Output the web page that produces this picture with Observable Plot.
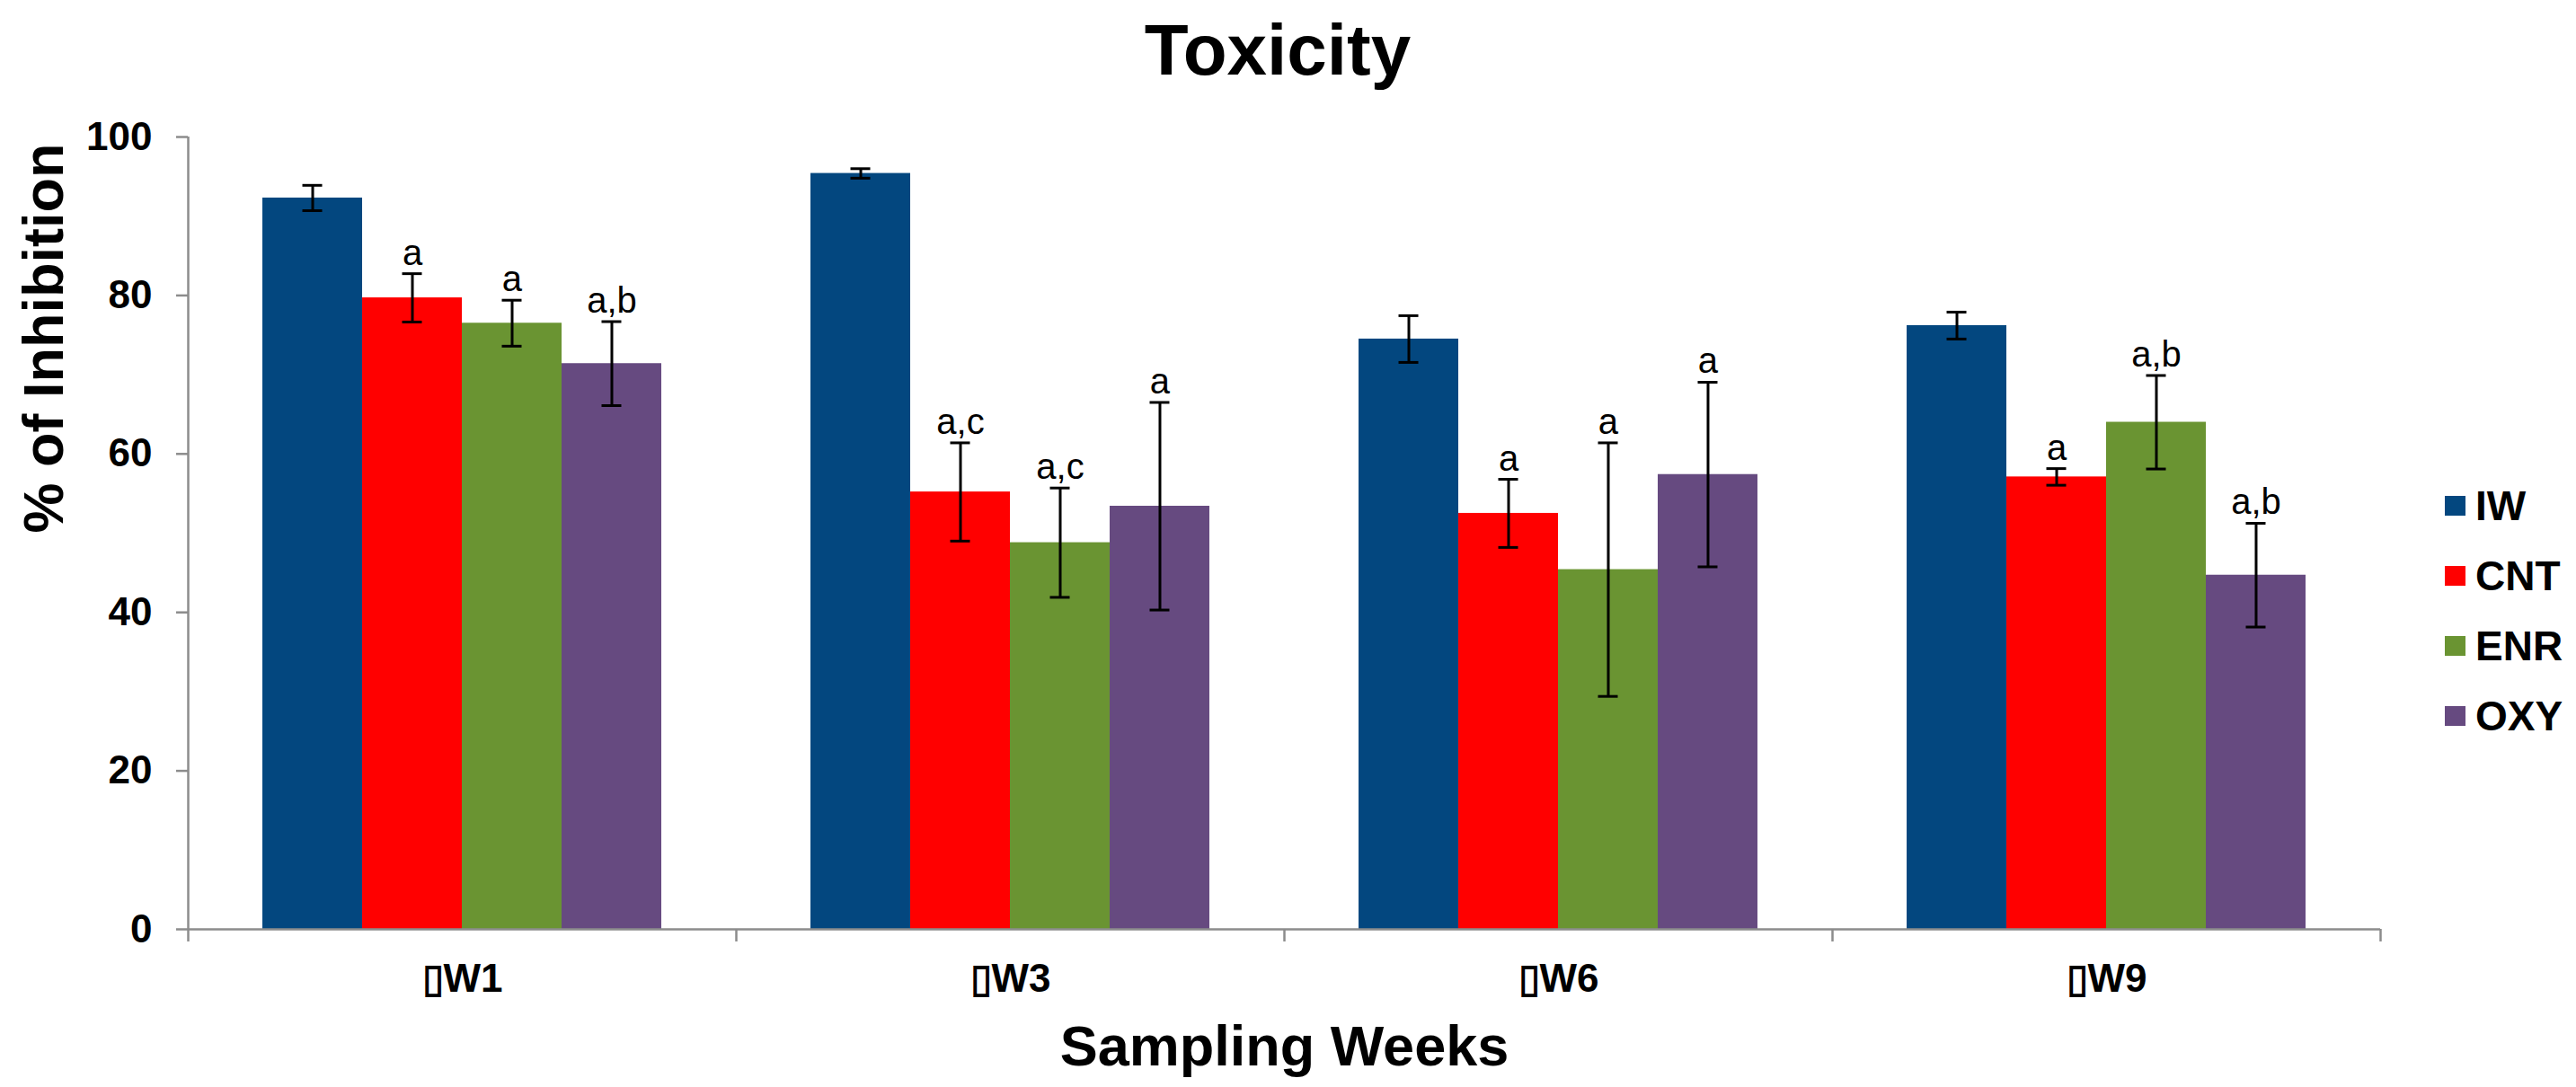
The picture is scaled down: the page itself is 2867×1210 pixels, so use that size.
<!DOCTYPE html>
<html><head><meta charset="utf-8">
<script src="https://cdn.jsdelivr.net/npm/d3@7"></script>
<script src="https://cdn.jsdelivr.net/npm/@observablehq/plot@0.6"></script>
<style>
html,body{margin:0;padding:0;background:#fff;}
#wrap{position:relative;width:2867px;height:1210px;font-family:"Liberation Sans",Arial,sans-serif;color:#000;}
#title{position:absolute;left:0;top:0;width:2844px;height:112px;line-height:112px;text-align:center;font-size:80px;font-weight:bold;}
#chart{position:absolute;left:0;top:112px;}
#legend{position:absolute;left:2721px;top:524px;}
.row{display:flex;align-items:center;height:78px;}
.sw{width:23px;height:22px;margin-right:11px;}
.lab{font-size:46px;font-weight:bold;line-height:78px;}
</style></head>
<body><div id="wrap"><div id="title">Toxicity</div><div id="chart"></div><div id="legend"></div></div>
<script>
// ---- data ----
const weeks = ["W1", "W3", "W6", "W9"];
const series = ["IW", "CNT", "ENR", "OXY"];
const colors = ["#03477F", "#FF0000", "#6A9432", "#664A80"];
const IW  = [92.3, 95.4, 74.5, 76.2];
const CNT = [79.7, 55.2, 52.5, 57.1];
const ENR = [76.5, 48.8, 45.4, 64.0];
const OXY = [71.4, 53.4, 57.4, 44.7];
const IW_err  = [1.6, 0.6, 2.95, 1.7];
const CNT_err = [3.05, 6.2, 4.3, 1.05];
const ENR_err = [2.9, 6.9, 16.0, 5.9];
const OXY_err = [5.3, 13.1, 11.65, 6.55];
const IW_sig  = ["", "", "", ""];
const CNT_sig = ["a", "a,c", "a", "a"];
const ENR_sig = ["a", "a,c", "a", "a,b"];
const OXY_sig = ["a,b", "a", "a", "a,b"];
const yTicks = [0, 20, 40, 60, 80, 100];
const xTitle = "Sampling Weeks";
const yTitle = "% of Inhibition";

// ---- table ----
const means = {IW, CNT, ENR, OXY};
const errs = {IW: IW_err, CNT: CNT_err, ENR: ENR_err, OXY: OXY_err};
const sigs = {IW: IW_sig, CNT: CNT_sig, ENR: ENR_sig, OXY: OXY_sig};
const rows = series.flatMap(s => weeks.map((w, i) => ({
  week: w, wi: i, series: s, value: means[s][i], err: errs[s][i], letter: sigs[s][i]
})));

const inner = d3.scaleBand().domain(series).range([0, 1]).paddingInner(0).paddingOuter(0.748);
const bw = inner.bandwidth();
const x1 = d => d.wi + inner(d.series);
const x2 = d => d.wi + inner(d.series) + bw;
const xc = d => d.wi + inner(d.series) + bw / 2;
const lo = d => d.value - d.err;
const hi = d => d.value + d.err;
const axisColor = "#8c8c8c";

const chart = Plot.plot({
  width: 2867, height: 1098,
  marginTop: 40, marginBottom: 176, marginLeft: 209, marginRight: 218,
  style: {fontFamily: "'Liberation Sans', Arial, sans-serif", background: "transparent", color: "black", overflow: "visible"},
  x: {domain: [0, weeks.length], axis: null},
  y: {domain: [0, 100], axis: null},
  color: {domain: series, range: colors},
  marks: [
    Plot.rectY(rows, {x1, x2, y: "value", fill: "series", inset: 0}),
    Plot.ruleX(rows, {x: xc, y1: lo, y2: hi, stroke: "black", strokeWidth: 3}),
    Plot.ruleY(rows, {y: lo, x1: xc, x2: xc, insetLeft: -11, insetRight: -11, stroke: "black", strokeWidth: 3}),
    Plot.ruleY(rows, {y: hi, x1: xc, x2: xc, insetLeft: -11, insetRight: -11, stroke: "black", strokeWidth: 3}),
    Plot.text(rows.filter(d => d.letter), {x: xc, y: hi, text: "letter", dy: -10, lineAnchor: "bottom", fontSize: 40, fill: "black"}),
    Plot.ruleY([0], {stroke: axisColor, strokeWidth: 2.5}),
    Plot.ruleX([0], {y1: 0, y2: 100, stroke: axisColor, strokeWidth: 2.5}),
    Plot.ruleY(yTicks, {y: d => d, x1: 0, x2: 0, insetLeft: -13, stroke: axisColor, strokeWidth: 2.5}),
    Plot.ruleX(d3.range(weeks.length + 1), {x: d => d, y1: 0, y2: 0, insetBottom: -14, stroke: axisColor, strokeWidth: 2.5}),
    Plot.axisY({ticks: yTicks, tickSize: 0, tickPadding: 40, fontSize: 44, fontWeight: "bold", label: null}),
    Plot.axisX({ticks: weeks.map((w, i) => i + 0.5), tickFormat: d => "\u25AF" + weeks[Math.floor(d)], tickSize: 0, tickPadding: 38, fontSize: 44, fontWeight: "bold", label: null}),
    Plot.text([xTitle], {text: d => d, frameAnchor: "bottom", dy: 151, lineAnchor: "bottom", fontSize: 63, fontWeight: "bold"}),
    Plot.text([yTitle], {text: d => d, frameAnchor: "left", rotate: -90, dx: -140, lineAnchor: "bottom", fontSize: 63, fontWeight: "bold"})
  ]
});
document.getElementById("chart").appendChild(chart);

// ---- legend ----
const leg = d3.select("#legend");
series.forEach((s, i) => {
  const r = leg.append("div").attr("class", "row");
  r.append("div").attr("class", "sw").style("background", colors[i]);
  r.append("div").attr("class", "lab").text(s);
});
</script>
</body></html>
